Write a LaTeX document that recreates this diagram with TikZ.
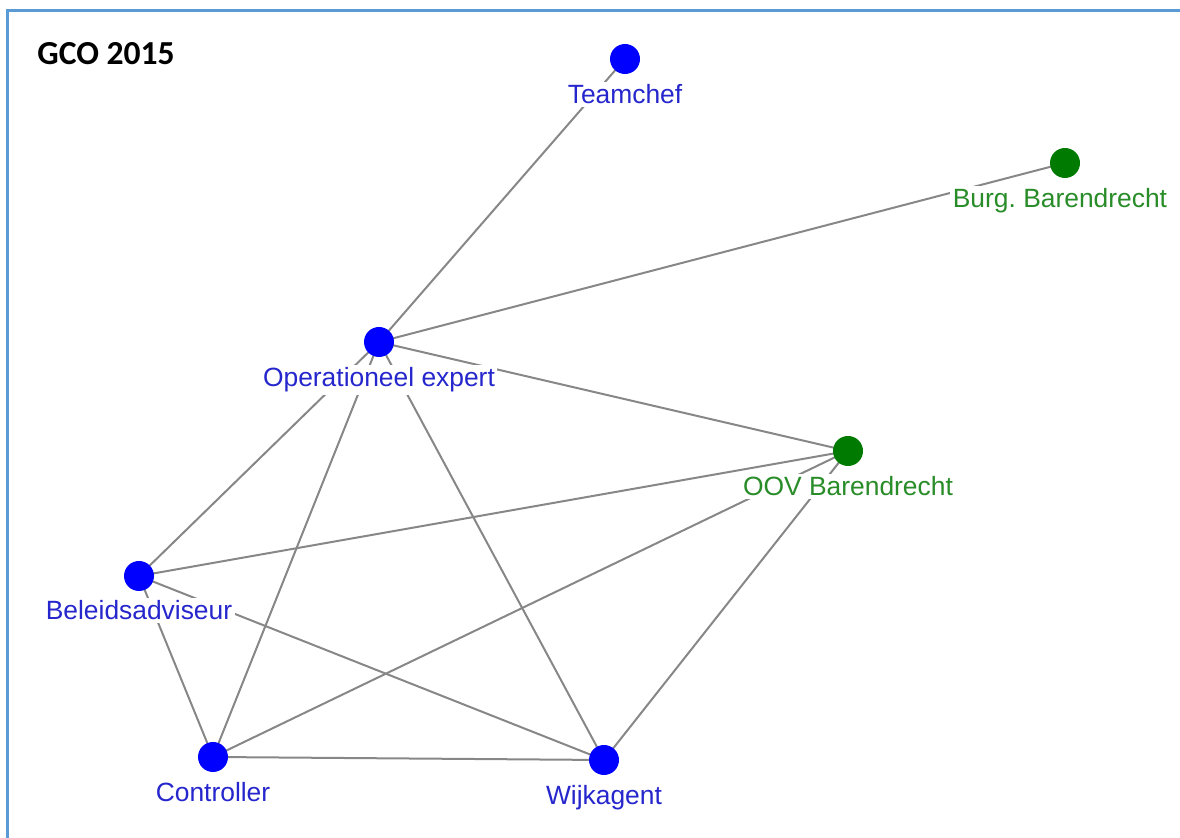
\documentclass[tikz,border=0pt]{standalone}
\usepackage{fontspec}
\setmainfont{Liberation Sans}
\newfontfamily\titlefont{Carlito}
\frenchspacing
\usetikzlibrary{backgrounds}
\definecolor{frameblue}{RGB}{91,155,213}
\definecolor{edgegray}{RGB}{135,135,135}
\definecolor{dotblue}{RGB}{0,0,255}
\definecolor{txtblue}{RGB}{38,38,205}
\definecolor{dotgreen}{RGB}{0,122,0}
\definecolor{txtgreen}{RGB}{40,140,40}
\tikzset{
  actor/.style={circle,fill=dotblue,inner sep=0pt,minimum size=15pt},
  partner/.style={actor,fill=dotgreen},
  lbl/.style={anchor=base,fill=white,inner sep=1.2pt,text=txtblue,
    font=\fontsize{13.2}{15}\selectfont},
  glbl/.style={lbl,text=txtgreen},
  tie/.style={draw=edgegray,line width=1pt},
}
\begin{document}
\begin{tikzpicture}[x=0.5pt,y=-0.5pt]
  \useasboundingbox (0,0) rectangle (1180,838);
  % frame: top and left edges
  \draw[frameblue,line width=1.5pt] (7,838) -- (7,11) -- (1180,11);
  \node[anchor=base west,inner sep=0pt,font=\titlefont\bfseries\fontsize{16.8}{18}\selectfont] (title) at (37,65) {GCO 2015};

  % dots
  \node[actor]   (tc)  at (625,59)   {};
  \node[partner] (bb)  at (1065,163) {};
  \node[actor]   (oe)  at (379,342)  {};
  \node[partner] (oov) at (848,451)  {};
  \node[actor]   (ba)  at (139,576)  {};
  \node[actor]   (co)  at (213,757)  {};
  \node[actor]   (wa)  at (604,760)  {};

  % labels
  \node[lbl]  (tc-l)  at (625,104)  {Teamchef};
  \node[glbl] (bb-l)  at (1060,208) {Burg. Barendrecht};
  \node[lbl]  (oe-l)  at (379,387)  {Operationeel expert};
  \node[glbl] (oov-l) at (848,496)  {OOV Barendrecht};
  \node[lbl]  (ba-l)  at (139,620)  {Beleidsadviseur};
  \node[lbl]  (co-l)  at (213,802)  {Controller};
  \node[lbl]  (wa-l)  at (604,805)  {Wijkagent};

  % ties, kept behind dots and labels
  \begin{scope}[on background layer]
    \draw[tie] (tc.center) -- (oe.center);
    \draw[tie] (bb.center) -- (oe.center);
    \draw[tie] (oe.center) -- (oov.center);
    \draw[tie] (oe.center) -- (ba.center);
    \draw[tie] (oe.center) -- (co.center);
    \draw[tie] (oe.center) -- (wa.center);
    \draw[tie] (oov.center) -- (ba.center);
    \draw[tie] (oov.center) -- (co.center);
    \draw[tie] (oov.center) -- (wa.center);
    \draw[tie] (ba.center) -- (co.center);
    \draw[tie] (ba.center) -- (wa.center);
    \draw[tie] (co.center) -- (wa.center);
  \end{scope}
\end{tikzpicture}
\end{document}
